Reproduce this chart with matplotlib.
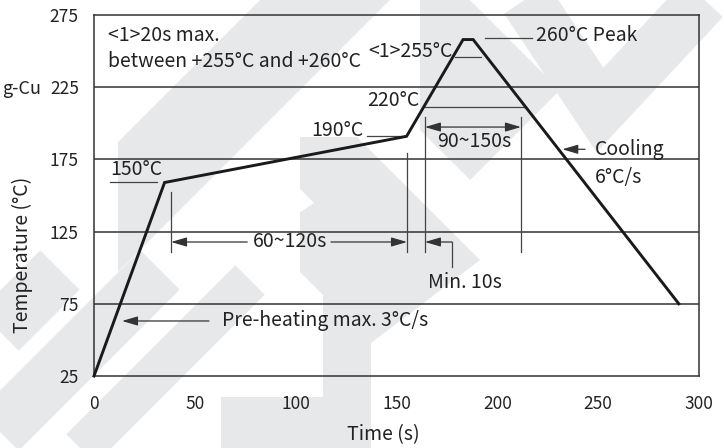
import matplotlib
matplotlib.use('Agg')
import matplotlib.pyplot as plt
from matplotlib.lines import Line2D
from matplotlib.patches import Polygon

plt.rcParams['font.family'] = ['Noto Sans CJK SC', 'DejaVu Sans']

# ---- data ----
time_s = [0, 35, 155, 183, 188, 290]
temp_c = [25, 159, 191, 258, 258, 75]
x_ticks = [0, 50, 100, 150, 200, 250, 300]
y_ticks = [25, 75, 125, 175, 225, 275]
grid_levels = [75, 125, 175, 225]

W, H = 724, 448
fig = plt.figure(figsize=(W / 100, H / 100), dpi=100)

# ---- faint background watermark (decorative) ----
wm = fig.add_axes([0, 0, 1, 1], zorder=0)
wm.set_xlim(0, W)
wm.set_ylim(H, 0)
wm.axis('off')
wm_color = '#e7e8ea'
wm_polys = [
    [(260, 0), (390, 0), (215, 175), (118, 272), (118, 142)],
    [(300, 137), (357, 137), (480, 260), (371, 343), (371, 448), (221, 448),
     (221, 397), (323, 397), (323, 295), (300, 272)],
    [(420, 0), (470, 0), (560, 90), (470, 180), (420, 130)],
]
for p in wm_polys:
    wm.add_patch(Polygon(p, closed=True, facecolor=wm_color, edgecolor='none'))
wm.add_patch(Polygon([(186, 212), (289, 178), (314, 203), (186, 290), (160, 262)],
                     closed=True, facecolor='white', edgecolor='none'))
strokes = [
    ([500, 600, 740], [-40, 110, -40], 38),
    ([-20, 160], [450, 270], 40),
    ([-20, 60], [350, 270], 40),
    ([60, 250], [470, 280], 30),
]
for xs, ys, w in strokes:
    wm.add_line(Line2D(xs, ys, color=wm_color, lw=w, solid_joinstyle='miter',
                       solid_capstyle='butt'))

# ---- main axes ----
ax = fig.add_axes([94 / W, 1 - 376 / H, 605 / W, 361 / H], zorder=1)
ax.patch.set_alpha(0)
ax.set_xlim(0, 300)
ax.set_ylim(25, 275)
for s in ax.spines.values():
    s.set_color('#333333')
    s.set_linewidth(1.1)
for g in grid_levels:
    ax.axhline(g, color='#333333', lw=1.1, zorder=1)
ax.plot(time_s, temp_c, color='#1a1a1a', lw=2.1, solid_joinstyle='miter',
        clip_on=False, zorder=3)
ax.set_xticks(x_ticks)
ax.set_yticks(y_ticks)
ax.tick_params(length=0, labelsize=12.5, colors='#222222')
ax.tick_params(axis='x', pad=14)
ax.tick_params(axis='y', pad=11)

tc = '#222222'
lc = '#444444'
fs = 14


def txt(x, y, s, ha='left', va='center', size=fs):
    ax.text(x, y, s, ha=ha, va=va, fontsize=size, color=tc, clip_on=False)


def seg(xs, ys):
    ax.plot(xs, ys, color=lc, lw=0.9, zorder=2)


def arrow(x0, y0, x1, y1, style='-|>'):
    ax.annotate('', xy=(x1, y1), xytext=(x0, y0),
                arrowprops=dict(arrowstyle=style + ',head_length=0.95,head_width=0.28',
                                color='#333333', lw=0.9, shrinkA=0, shrinkB=0,
                                mutation_scale=10), zorder=2)


# top-left note
txt(7, 261, '<1>20s max.')
txt(7, 242.5, 'between +255°C and +260°C')
# 255 marker
txt(178, 249.5, '<1>255°C', ha='right')
seg([179, 192], [246, 246])
# peak
seg([194, 217], [259, 259])
txt(219, 261, '260°C Peak')
# 220
txt(161.5, 215.5, '220°C', ha='right')
seg([164, 213.7], [211.3, 211.3])
# 190
txt(133.8, 195, '190°C', ha='right')
seg([135.4, 154.7], [191.2, 191.2])
# 150
txt(7.9, 167.7, '150°C')
seg([7.9, 31.2], [159.3, 159.3])
# vertical markers
seg([38.2, 38.2], [152.4, 110.9])
seg([155.2, 155.2], [179.4, 110.9])
seg([164.1, 164.1], [204.4, 110.9])
seg([211.7, 211.7], [204.4, 110.9])
# 60~120s
arrow(76, 117.8, 38.2, 117.8)
arrow(117.5, 117.8, 155.2, 117.8)
txt(97.2, 117.8, '60~120s', ha='center')
# Min. 10s
seg([177.5, 177.5], [100.5, 117.8])
arrow(177.5, 117.8, 164.1, 117.8)
txt(165.5, 89.5, 'Min. 10s')
# 90~150s
arrow(164.1, 197.4, 211.7, 197.4, style='<|-|>')
txt(188.5, 187.7, '90~150s', ha='center')
# cooling
arrow(243.5, 182, 232.2, 182)
txt(248.4, 182, 'Cooling')
txt(248.4, 162.8, '6°C/s')
# pre-heating
arrow(57, 63.1, 13.9, 63.1)
txt(63.5, 63.1, 'Pre-heating max. 3°C/s')

# side label (only its tail is visible in the reference)
fig.text(2 / W, 1 - 89 / H, 'g-Cu', ha='left', va='center', fontsize=13, color=tc)
fig.text(22 / W, 1 - 255 / H, 'Temperature (°C)', rotation=90, ha='center',
         va='center', fontsize=fs, color=tc)
fig.text(383 / W, 1 - 435 / H, 'Time (s)', ha='center', va='center',
         fontsize=fs, color=tc)

fig.savefig('out.png', dpi=100)
